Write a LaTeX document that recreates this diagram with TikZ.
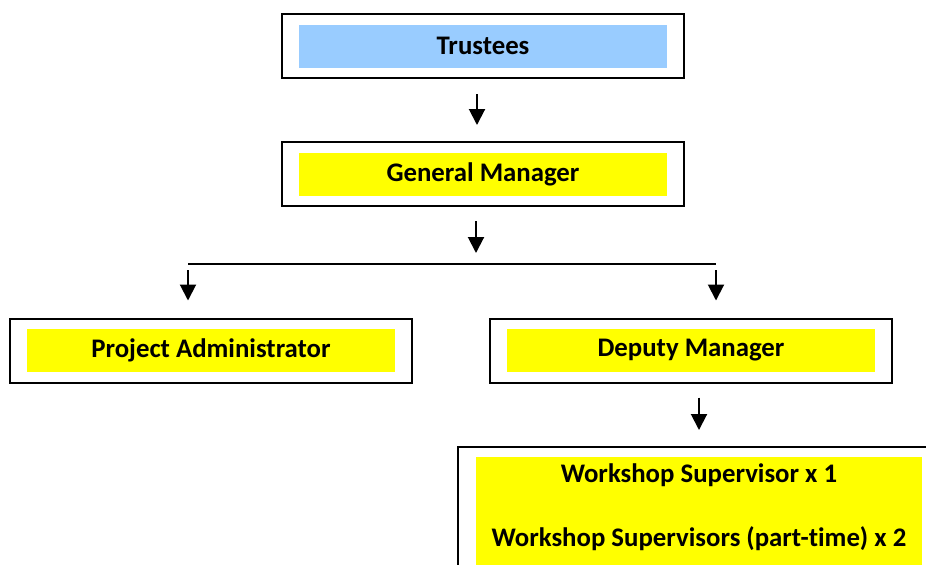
\documentclass[tikz,border=0pt]{standalone}
\usepackage{fontspec}
\setmainfont[Ligatures=NoCommon]{Carlito}
\usetikzlibrary{positioning,arrows.meta}
\definecolor{trusteeblue}{HTML}{99CCFF}
\definecolor{postyellow}{HTML}{FFFF00}
\begin{document}
\begin{tikzpicture}[x=0.5pt,y=-0.5pt]
\tikzset{frame/.style={draw,line width=1pt,minimum width=201pt,minimum height=32pt,inner sep=0pt},
  post/.style={fill=postyellow,minimum width=184pt,minimum height=21.5pt,inner sep=0pt,font=\bfseries\fontsize{13.4}{16}\selectfont},
  arr/.style={-{Triangle[width=8pt,length=8pt]},line width=1pt}};
   \useasboundingbox (0,0) rectangle (926,564);

   \node[frame] (T) at (483,46) {};
   \node[post,fill=trusteeblue] (Tn) at (T) {Trustees};
   \node[frame] (G) at (483,174) {};
   \node[post] (Gn) at (G) {General Manager};
   \node[frame] (PA) at (211,350.5) {};
   \node[post] (PAn) at (PA) {Project Administrator};
   \node[frame] (DM) at (691,350.5) {};
   \node[post] (DMn) at (DM) {Deputy Manager};
   % workshop box runs off the page
   \node[frame,minimum width=241pt,minimum height=70pt,anchor=north] (W) at (699,446) {};
   \node[post,minimum width=223pt,minimum height=60pt,anchor=north] (Wn) at (699,457) {};
   \node[post,fill=none] (W1) at (699,475) {Workshop Supervisor x 1};
   \node[post,fill=none] (W2) at (699,539) {Workshop Supervisors (part-time) x 2};

   \coordinate (barM) at (476,264);
   \coordinate (barL) at (188,264);
   \coordinate (barR) at (716,264);
   \draw[line width=1pt] (barL) -- (barR);

   \draw[arr,shorten <=7.5pt,shorten >=8pt] ([xshift=-3pt]T.south) -- ([xshift=-3pt]G.north);
   \draw[arr,shorten <=7pt,shorten >=5.5pt] (barM |- G.south) -- (barM);
   \draw[arr,shorten <=3pt,shorten >=8.5pt] (barL) -- (barL |- PA.north);
   \draw[arr,shorten <=3pt,shorten >=8.5pt] (barR) -- (barR |- DM.north);
   \draw[arr,shorten <=7pt,shorten >=8pt] (W.north |- DM.south) -- (W.north);
 \end{tikzpicture}
\end{document}
